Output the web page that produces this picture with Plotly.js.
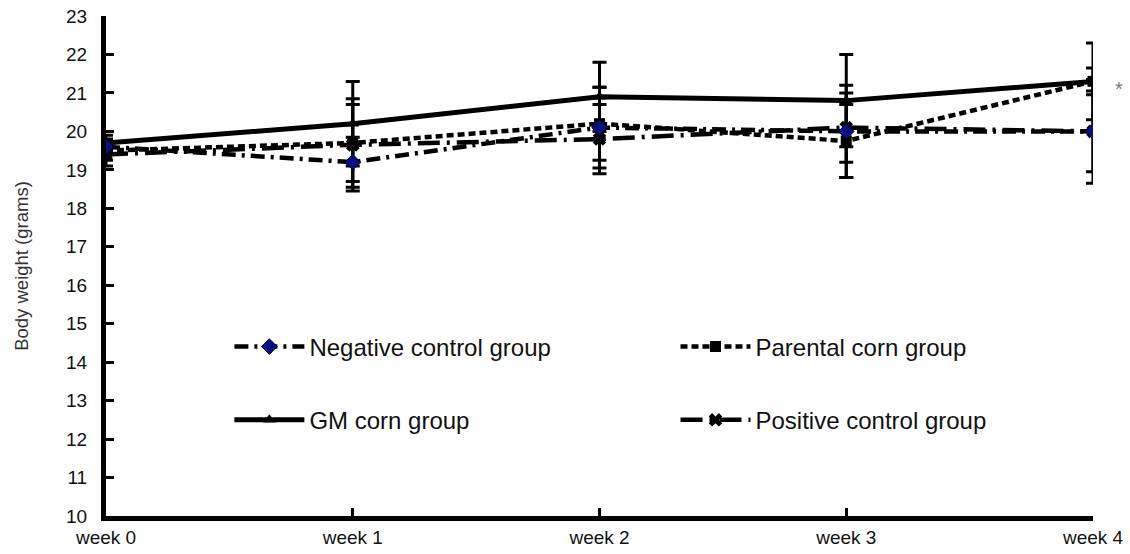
<!DOCTYPE html>
<html>
<head>
<meta charset="utf-8">
<script src="https://cdn.plot.ly/plotly-3.0.1.min.js"></script>
<style>html,body{margin:0;padding:0;background:#fff;}#chart{width:1130px;height:554px;}</style>
</head>
<body>
<div id="chart"></div>
<script>
const weeks = ['week 0', 'week 1', 'week 2', 'week 3', 'week 4'];
const yTicks = [10, 11, 12, 13, 14, 15, 16, 17, 18, 19, 20, 21, 22, 23];

const negative = [19.6, 19.2, 20.1, 20.0, 20.0];
const negativeErr = [0.2, 0.65, 1.05, 1.2, 1.35];
const parental = [19.5, 19.7, 20.2, 19.75, 21.3];
const parentalErr = [0.25, 1.0, 0.95, 0.95, 0.35];
const gm = [19.7, 20.2, 20.9, 20.8, 21.3];
const gmErr = [0.2, 1.1, 0.9, 1.2, 1.0];
const positive = [19.4, 19.65, 19.8, 20.1, 20.0];
const positiveErr = [0.3, 1.2, 0.9, 0.9, 1.05];

const xIdx = weeks.map((w, i) => i);
const FONT = 'Liberation Sans, Arial, sans-serif';

function errBar(arr) {
  return {type: 'data', array: arr, visible: true, color: '#000', thickness: 3, width: 7};
}

const traces = [
  {
    name: 'GM corn group', x: xIdx, y: gm, error_y: errBar(gmErr),
    mode: 'lines+markers', legend: 'legend', legendgroup: 'g2', legendrank: 2,
    line: {color: '#000', width: 5},
    marker: {symbol: 'triangle-up', size: 11, color: '#000'}
  },
  {
    name: 'Parental corn group', x: xIdx, y: parental, error_y: errBar(parentalErr),
    mode: 'lines+markers', legend: 'legend2', legendgroup: 'g3', legendrank: 1,
    line: {color: '#000', width: 4.5, dash: '7px,4px'},
    marker: {symbol: 'square', size: 11, color: '#000'}
  },
  {
    name: 'Positive control group', x: xIdx, y: positive, error_y: errBar(positiveErr),
    mode: 'lines+markers', legend: 'legend2', legendgroup: 'g4', legendrank: 2,
    line: {color: '#000', width: 4.5, dash: '22px,7px,3px,7px'},
    marker: {symbol: 'x', size: 12, color: '#000'}
  },
  {
    name: 'Negative control group', x: xIdx, y: negative, error_y: errBar(negativeErr),
    mode: 'lines+markers', legend: 'legend', legendgroup: 'g1', legendrank: 1,
    line: {color: '#000', width: 4.5, dash: '14px,6px,3px,6px'},
    marker: {symbol: 'diamond', size: 12, color: '#0a1080', line: {color: '#000033', width: 1}}
  }
];

const legendCommon = {
  font: {family: FONT, size: 24, color: '#111'},
  bgcolor: 'rgba(0,0,0,0)',
  orientation: 'v',
  xanchor: 'left', yanchor: 'top',
  tracegroupgap: 39,
  itemwidth: 70,
  traceorder: 'grouped'
};

const layout = {
  width: 1130, height: 554,
  margin: {l: 106, r: 37, t: 16, b: 38},
  paper_bgcolor: '#fff', plot_bgcolor: '#fff',
  font: {family: FONT, color: '#111'},
  showlegend: true,
  legend: Object.assign({}, legendCommon, {x: 0.125, y: 0.383}),
  legend2: Object.assign({}, legendCommon, {x: 0.577, y: 0.383}),
  xaxis: {
    range: [0, 4], tickmode: 'array', tickvals: xIdx, ticktext: weeks,
    showgrid: false, zeroline: false,
    showline: true, linecolor: '#000', linewidth: 5,
    ticks: 'inside', ticklen: 8, tickwidth: 3, tickcolor: '#000',
    tickfont: {family: FONT, size: 19, color: '#111'}
  },
  yaxis: {
    range: [10, 23], tickmode: 'array', tickvals: yTicks,
    showgrid: false, zeroline: false,
    showline: true, linecolor: '#000', linewidth: 5,
    ticks: 'inside', ticklen: 8, tickwidth: 3, tickcolor: '#000',
    ticklabelstandoff: 10,
    tickfont: {family: FONT, size: 19, color: '#111'},
    title: {text: 'Body weight (grams)', font: {family: FONT, size: 18.5, color: '#333'}, standoff: 34}
  },
  annotations: [
    {xref: 'paper', yref: 'paper', x: 1.032, y: 0.88, text: '*', showarrow: false,
     font: {family: FONT, size: 20, color: '#777'}}
  ]
};

Plotly.newPlot('chart', traces, layout, {displayModeBar: false, staticPlot: true});
</script>
</body>
</html>
